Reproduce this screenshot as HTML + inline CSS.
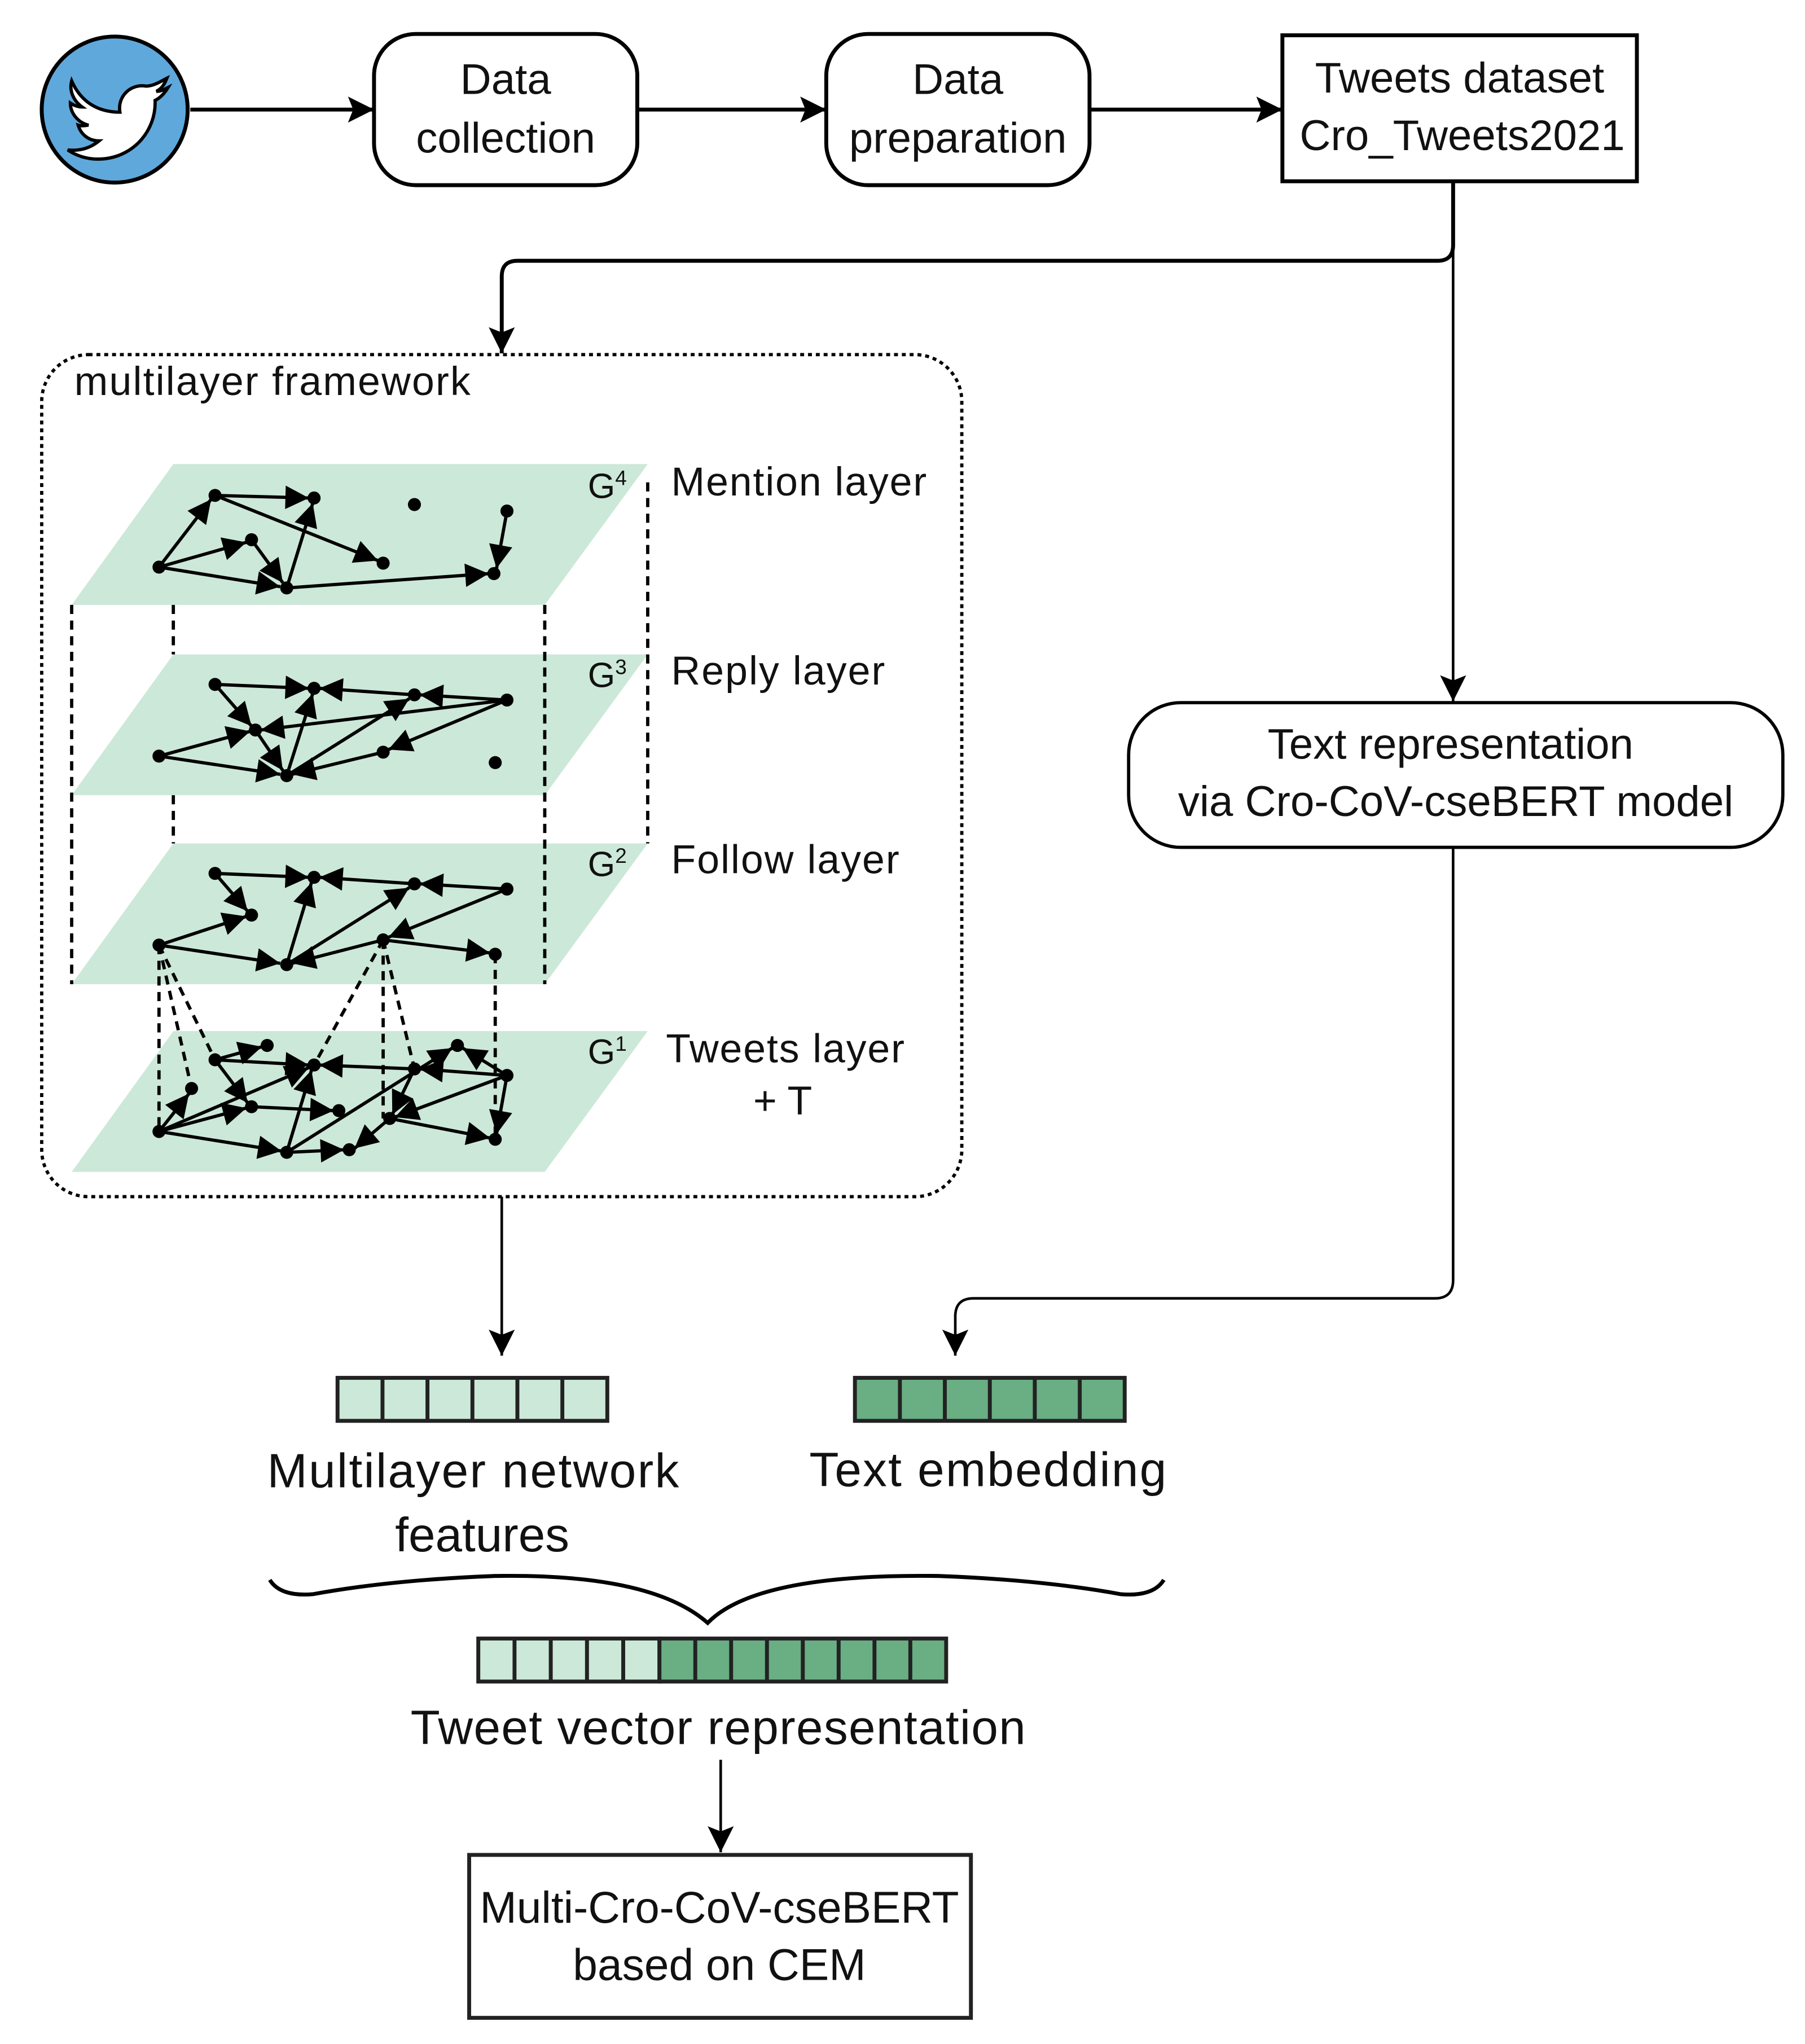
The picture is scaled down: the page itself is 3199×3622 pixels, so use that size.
<!DOCTYPE html>
<html><head><meta charset="utf-8"><style>
html,body{margin:0;padding:0;background:#fff;}
svg{display:block;}
text{font-family:"Liberation Sans",sans-serif;fill:#111;}
</style></head><body>
<svg width="3199" height="3622" viewBox="0 0 1385 1568" xmlns="http://www.w3.org/2000/svg">
<defs>
<marker id="B" viewBox="0 0 10 10" refX="10" refY="5" markerWidth="26" markerHeight="20" orient="auto" markerUnits="userSpaceOnUse"><path d="M0,0 L10,5 L0,10 L2,5 Z" fill="#000"/></marker>
<marker id="s" viewBox="0 0 10 10" refX="10" refY="5" markerWidth="24" markerHeight="18" orient="auto" markerUnits="userSpaceOnUse"><path d="M0,0 L10,5 L0,10 Z" fill="#000"/></marker>
</defs>
<circle cx="88" cy="84" r="56" fill="#5fa8dc" stroke="#000" stroke-width="3"/>
<path d="M55,62 C62,78 75,86 92,86 C90,74 100,64 112,66 C118,66 124,62 128,60 C126,65 124,68 120,70 C124,70 127,68 129,67 C126,72 123,75 119,77 C120,100 102,122 75,122 C66,122 58,119 52,115 C62,116 70,113 76,108 C68,108 62,103 60,96 C63,97 66,96 68,96 C60,94 54,87 54,79 C57,81 60,82 63,82 C56,77 53,69 55,62 Z" fill="#fff" stroke="#000" stroke-width="2.5"/>
<g stroke="#000" stroke-width="3" fill="none">
<line x1="146" y1="84" x2="287" y2="84" marker-end="url(#B)"/>
<line x1="489" y1="84" x2="634" y2="84" marker-end="url(#B)"/>
<line x1="836" y1="84" x2="984" y2="84" marker-end="url(#B)"/>
<rect x="287" y="26" width="202" height="116" rx="32"/>
<rect x="634" y="26" width="202" height="116" rx="32"/>
<rect x="984" y="27" width="272" height="112"/>
</g>
<g font-size="33" text-anchor="middle">
<text x="388" y="72">Data</text><text x="388" y="117">collection</text>
<text x="735" y="72">Data</text><text x="735" y="117">preparation</text>
<text x="1120" y="71">Tweets dataset</text><text x="1122" y="115">Cro_Tweets2021</text>
</g>
<g stroke="#000" fill="none">
<path d="M1115,139 V188 Q1115,200 1103,200 H397 Q385,200 385,212 V271" stroke-width="3" marker-end="url(#B)"/>
<line x1="1115" y1="188" x2="1115" y2="538" stroke-width="2" marker-end="url(#B)"/>
<path d="M1115,650 V982 Q1115,996 1101,996 H747 Q733,996 733,1010 V1040" stroke-width="2" marker-end="url(#B)"/>
<line x1="385" y1="918" x2="385" y2="1040" stroke-width="2" marker-end="url(#B)"/>
<line x1="553" y1="1350" x2="553" y2="1421" stroke-width="2" marker-end="url(#B)"/>
</g>
<rect x="32" y="272" width="706" height="646" rx="36" fill="none" stroke="#000" stroke-width="2.5" stroke-dasharray="3,3"/>
<text x="57" y="303" font-size="31" textLength="304">multilayer framework</text>
<g fill="#cce8d8">
<polygon points="133,356 497,356 418,464 55,464"/>
<polygon points="133,502 497,502 418,610 55,610"/>
<polygon points="133,647 497,647 418,755 55,755"/>
<polygon points="133,791 497,791 418,899 55,899"/>
</g>
<g stroke="#000" stroke-width="2.5" stroke-dasharray="7,5" fill="none">
<line x1="55" y1="464" x2="55" y2="755"/>
<line x1="133" y1="464" x2="133" y2="502"/>
<line x1="133" y1="610" x2="133" y2="647"/>
<line x1="418" y1="464" x2="418" y2="755"/>
<line x1="497" y1="370" x2="497" y2="647"/>
<line x1="122" y1="725" x2="122" y2="868"/>
<line x1="122" y1="725" x2="147" y2="835"/>
<line x1="122" y1="725" x2="165" y2="813"/>
<line x1="294" y1="721" x2="241" y2="817"/>
<line x1="294" y1="721" x2="294" y2="858"/>
<line x1="294" y1="721" x2="318" y2="820"/>
<line x1="380" y1="732" x2="380" y2="874"/>
</g>
<g font-size="27"><text x="451" y="382">G<tspan font-size="16" dy="-10">4</tspan></text>
<text x="451" y="527">G<tspan font-size="16" dy="-10">3</tspan></text>
<text x="451" y="672">G<tspan font-size="16" dy="-10">2</tspan></text>
<text x="451" y="816">G<tspan font-size="16" dy="-10">1</tspan></text></g>
<g font-size="31"><text x="515" y="380" textLength="196">Mention layer</text><text x="515" y="525" textLength="164">Reply layer</text>
<text x="515" y="670" textLength="175">Follow layer</text><text x="511" y="815" textLength="183">Tweets layer</text><text x="578" y="855">+ T</text></g>
<g stroke="#000" stroke-width="2.5" marker-end="url(#s)">
<line x1="122" y1="435" x2="162" y2="383"/><line x1="165" y1="380" x2="237" y2="382"/>
<line x1="122" y1="435" x2="189" y2="416"/><line x1="193" y1="414" x2="217" y2="447"/>
<line x1="122" y1="435" x2="215" y2="450"/><line x1="220" y1="451" x2="240" y2="386"/>
<line x1="165" y1="380" x2="290" y2="430"/><line x1="220" y1="451" x2="375" y2="440"/>
<line x1="389" y1="392" x2="381" y2="436"/>
<line x1="165" y1="525" x2="237" y2="528"/><line x1="318" y1="533" x2="245" y2="528"/>
<line x1="389" y1="537" x2="322" y2="533"/><line x1="165" y1="525" x2="193" y2="557"/>
<line x1="122" y1="580" x2="192" y2="561"/><line x1="389" y1="537" x2="200" y2="560"/>
<line x1="220" y1="595" x2="240" y2="532"/><line x1="220" y1="595" x2="314" y2="536"/>
<line x1="122" y1="580" x2="215" y2="594"/><line x1="389" y1="537" x2="298" y2="575"/>
<line x1="294" y1="577" x2="224" y2="594"/><line x1="196" y1="560" x2="217" y2="591"/>
<line x1="165" y1="670" x2="237" y2="673"/><line x1="318" y1="678" x2="245" y2="673"/>
<line x1="389" y1="682" x2="322" y2="678"/><line x1="165" y1="670" x2="190" y2="699"/>
<line x1="122" y1="725" x2="189" y2="703"/><line x1="220" y1="740" x2="239" y2="677"/>
<line x1="220" y1="740" x2="314" y2="681"/><line x1="122" y1="725" x2="215" y2="739"/>
<line x1="294" y1="721" x2="224" y2="739"/><line x1="389" y1="682" x2="298" y2="719"/>
<line x1="294" y1="721" x2="376" y2="731"/>
<line x1="122" y1="868" x2="145" y2="839"/><line x1="165" y1="813" x2="201" y2="803"/>
<line x1="165" y1="813" x2="237" y2="817"/><line x1="318" y1="820" x2="245" y2="817"/>
<line x1="389" y1="825" x2="322" y2="820"/><line x1="165" y1="813" x2="190" y2="846"/>
<line x1="122" y1="868" x2="189" y2="850"/><line x1="193" y1="849" x2="256" y2="852"/>
<line x1="122" y1="868" x2="237" y2="819"/><line x1="220" y1="884" x2="239" y2="821"/>
<line x1="122" y1="868" x2="216" y2="883"/><line x1="220" y1="884" x2="264" y2="882"/>
<line x1="220" y1="884" x2="347" y2="804"/><line x1="389" y1="825" x2="355" y2="804"/>
<line x1="389" y1="825" x2="303" y2="857"/><line x1="318" y1="820" x2="301" y2="855"/>
<line x1="299" y1="858" x2="272" y2="881"/><line x1="299" y1="858" x2="376" y2="873"/>
<line x1="389" y1="825" x2="381" y2="870"/>
</g>
<g fill="#000">
<circle cx="122" cy="435" r="5"/><circle cx="165" cy="380" r="5"/><circle cx="241" cy="382" r="5"/><circle cx="193" cy="414" r="5"/><circle cx="220" cy="451" r="5"/><circle cx="294" cy="432" r="5"/><circle cx="318" cy="387" r="5"/><circle cx="389" cy="392" r="5"/><circle cx="379" cy="440" r="5"/>
<circle cx="122" cy="580" r="5"/><circle cx="165" cy="525" r="5"/><circle cx="241" cy="528" r="5"/><circle cx="196" cy="560" r="5"/><circle cx="220" cy="595" r="5"/><circle cx="318" cy="533" r="5"/><circle cx="389" cy="537" r="5"/><circle cx="294" cy="577" r="5"/><circle cx="380" cy="585" r="5"/>
<circle cx="122" cy="725" r="5"/><circle cx="165" cy="670" r="5"/><circle cx="241" cy="673" r="5"/><circle cx="220" cy="740" r="5"/><circle cx="318" cy="678" r="5"/><circle cx="389" cy="682" r="5"/><circle cx="193" cy="702" r="5"/><circle cx="294" cy="721" r="5"/><circle cx="380" cy="732" r="5"/>
<circle cx="122" cy="868" r="5"/><circle cx="147" cy="835" r="5"/><circle cx="165" cy="813" r="5"/><circle cx="205" cy="802" r="5"/><circle cx="241" cy="817" r="5"/><circle cx="193" cy="849" r="5"/><circle cx="260" cy="852" r="5"/><circle cx="220" cy="884" r="5"/><circle cx="268" cy="882" r="5"/><circle cx="318" cy="820" r="5"/><circle cx="351" cy="802" r="5"/><circle cx="389" cy="825" r="5"/><circle cx="299" cy="858" r="5"/><circle cx="380" cy="874" r="5"/>
</g>
<rect x="866" y="539" width="502" height="111" rx="40" fill="none" stroke="#000" stroke-width="2.5"/>
<g font-size="33" text-anchor="middle"><text x="1113" y="582">Text representation</text><text x="1117" y="626">via Cro-CoV-cseBERT model</text></g>
<g stroke="#222" stroke-width="3">
<rect x="259" y="1057" width="207" height="33" fill="#cce8d8"/>
<rect x="656" y="1057" width="207" height="33" fill="#6aae84"/>
<rect x="367" y="1257" width="139" height="33" fill="#cce8d8"/>
<rect x="506" y="1257" width="220" height="33" fill="#6aae84"/>
<path d="M293.5,1057V1090M328,1057V1090M362.5,1057V1090M397,1057V1090M431.5,1057V1090 M690.5,1057V1090M725,1057V1090M759.5,1057V1090M794,1057V1090M828.5,1057V1090 M394.8,1257V1290M422.6,1257V1290M450.4,1257V1290M478.2,1257V1290 M533.5,1257V1290M561,1257V1290M588.5,1257V1290M616,1257V1290M643.5,1257V1290M671,1257V1290M698.5,1257V1290" fill="none"/>
</g>
<g font-size="37" text-anchor="middle">
<text x="363" y="1141" textLength="316">Multilayer network</text><text x="370" y="1190">features</text>
<text x="758" y="1140" textLength="274">Text embedding</text>
<text x="551" y="1338" textLength="472">Tweet vector representation</text>
</g>
<path d="M207,1212 Q215,1225 240,1223 Q300,1212 380,1209 Q500,1207 543,1245 Q580,1207 720,1209 Q800,1212 860,1223 Q885,1225 893,1212" fill="none" stroke="#000" stroke-width="3"/>
<rect x="360" y="1423" width="385" height="125" fill="none" stroke="#222" stroke-width="3"/>
<g font-size="34" text-anchor="middle"><text x="552" y="1475">Multi-Cro-CoV-cseBERT</text><text x="552" y="1519">based on CEM</text></g>
</svg>
</body></html>
